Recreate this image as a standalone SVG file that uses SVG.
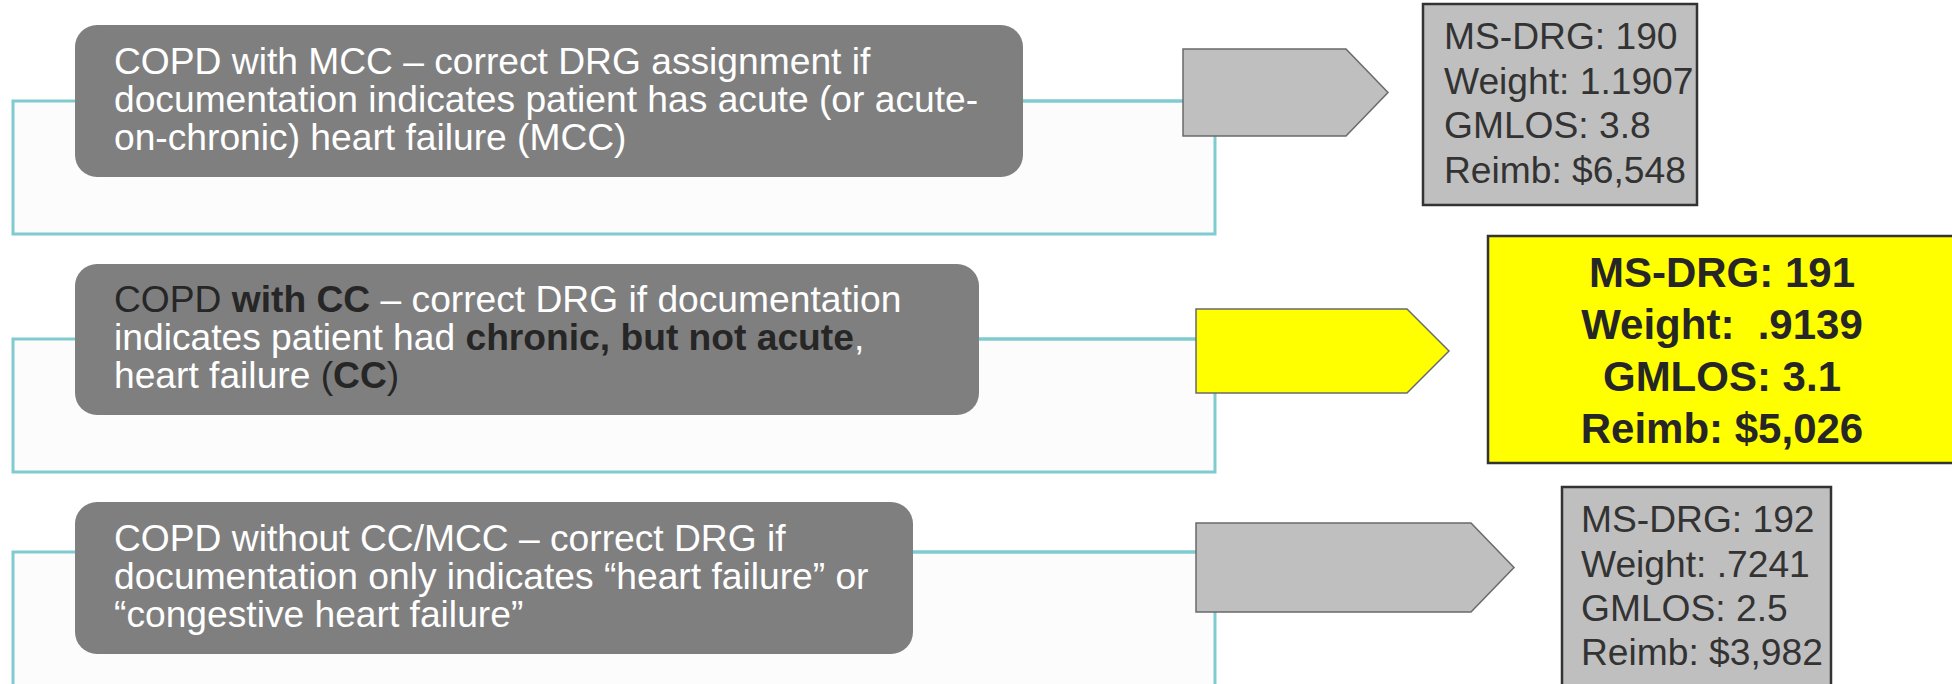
<svg xmlns="http://www.w3.org/2000/svg" width="1952" height="684" viewBox="0 0 1952 684">
  <style>
    .bracket { fill: #fcfcfc; stroke: #80cbd0; stroke-width: 3; }
    .link { fill: none; stroke: #80cbd0; stroke-width: 3; }
    .card { fill: #7f7f7f; }
    .txt { font-family: "Liberation Sans", Arial, sans-serif; font-size: 37.2px; fill: #ffffff; }
    .dk { fill: #262626; }
    .b { font-weight: bold; }
    .chev { fill: #bfbfbf; stroke: #6a6a6a; stroke-width: 1.5; }
    .chev-hi { fill: #ffff00; stroke: #6a6a6a; stroke-width: 1.5; }
    .info { fill: #bfbfbf; stroke: #333333; stroke-width: 2.5; }
    .info-hi { fill: #ffff00; stroke: #333333; stroke-width: 2.5; }
    .itxt { font-family: "Liberation Sans", Arial, sans-serif; font-size: 37.2px; fill: #333333; }
    .itxt-b { font-family: "Liberation Sans", Arial, sans-serif; font-size: 42px; font-weight: bold; fill: #262626; text-anchor: middle; }
  </style>

  <rect width="1952" height="684" fill="#ffffff"/>

  <!-- bracket frames and the short links that join each card to its chevron -->
  <g id="connectors">
    <rect class="bracket" x="13" y="101" width="1202" height="133"/>
    <rect class="bracket" x="13" y="339" width="1202" height="133"/>
    <rect class="bracket" x="13" y="552" width="1202" height="160"/>
    <line class="link" x1="1023" y1="101" x2="1184" y2="101"/>
    <line class="link" x1="979" y1="339" x2="1196" y2="339"/>
    <line class="link" x1="913" y1="552" x2="1196" y2="552"/>
  </g>

  <!-- row 1: MCC -->
  <g id="card-mcc">
    <rect class="card" x="75" y="25" width="948" height="152" rx="22"/>
    <text class="txt" x="114" y="74">COPD with MCC – correct DRG assignment if</text>
    <text class="txt" x="114" y="112">documentation indicates patient has acute (or acute-</text>
    <text class="txt" x="114" y="150">on-chronic) heart failure (MCC)</text>
  </g>
  <g id="chevron-mcc">
    <polygon class="chev" points="1183,49 1346,49 1388,92.5 1346,136 1183,136"/>
  </g>
  <g id="result-190">
    <rect class="info" x="1423" y="4" width="274" height="201"/>
    <text class="itxt" x="1444" y="49">MS-DRG: 190</text>
    <text class="itxt" x="1444" y="94">Weight: 1.1907</text>
    <text class="itxt" x="1444" y="138">GMLOS: 3.8</text>
    <text class="itxt" x="1444" y="183">Reimb: $6,548</text>
  </g>

  <!-- row 2: CC (highlighted) -->
  <g id="card-cc">
    <rect class="card" x="75" y="264" width="904" height="151" rx="22"/>
    <text class="txt" x="114" y="312"><tspan class="dk">COPD </tspan><tspan class="dk b">with CC</tspan> – correct DRG if documentation</text>
    <text class="txt" x="114" y="350">indicates patient had <tspan class="dk b">chronic, but not acute</tspan>,</text>
    <text class="txt" x="114" y="388">heart failure <tspan class="dk">(</tspan><tspan class="dk b">CC</tspan><tspan class="dk">)</tspan></text>
  </g>
  <g id="chevron-cc">
    <polygon class="chev-hi" points="1196,309 1407,309 1449,351 1407,393 1196,393"/>
  </g>
  <g id="result-191">
    <rect class="info-hi" x="1488" y="236" width="470" height="227"/>
    <text class="itxt-b" x="1722" y="287">MS-DRG: 191</text>
    <text class="itxt-b" x="1722" y="339" xml:space="preserve">Weight:  .9139</text>
    <text class="itxt-b" x="1722" y="391">GMLOS: 3.1</text>
    <text class="itxt-b" x="1722" y="443">Reimb: $5,026</text>
  </g>

  <!-- row 3: without CC/MCC -->
  <g id="card-none">
    <rect class="card" x="75" y="502" width="838" height="152" rx="22"/>
    <text class="txt" x="114" y="551">COPD without CC/MCC – correct DRG if</text>
    <text class="txt" x="114" y="589">documentation only indicates “heart failure” or</text>
    <text class="txt" x="114" y="627">“congestive heart failure”</text>
  </g>
  <g id="chevron-none">
    <polygon class="chev" points="1196,523 1471,523 1514,567.5 1471,612 1196,612"/>
  </g>
  <g id="result-192">
    <rect class="info" x="1562" y="487" width="269" height="220"/>
    <text class="itxt" x="1581" y="532">MS-DRG: 192</text>
    <text class="itxt" x="1581" y="577">Weight: .7241</text>
    <text class="itxt" x="1581" y="621">GMLOS: 2.5</text>
    <text class="itxt" x="1581" y="665">Reimb: $3,982</text>
  </g>
</svg>
